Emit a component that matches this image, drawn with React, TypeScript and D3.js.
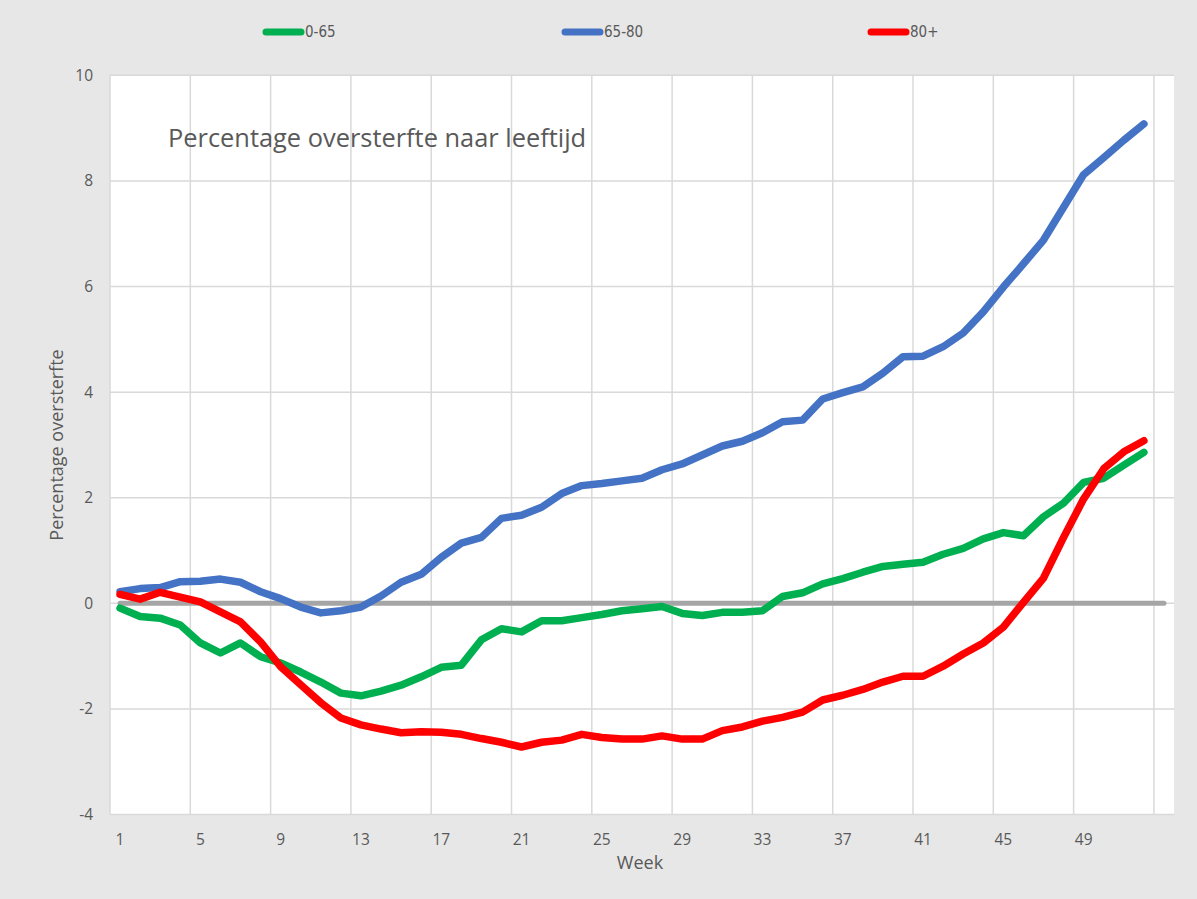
import React from "react";
import { scaleLinear, line, range } from "d3";

const weeks = range(1, 53);
const weeksAxis = range(1, 54);
const tickWeeks = [1, 5, 9, 13, 17, 21, 25, 29, 33, 37, 41, 45, 49];
const yTicks = [-4, -2, 0, 2, 4, 6, 8, 10];

const seriesNames = ["0-65", "65-80", "80+"];
const seriesColors = ["#00b050", "#4472c4", "#ff0000"];

const age0to65 = [
  -0.09, -0.25, -0.28, -0.41, -0.75, -0.94, -0.75, -1.01, -1.13, -1.3,
  -1.49, -1.7, -1.75, -1.66, -1.55, -1.39, -1.21, -1.17, -0.69, -0.48,
  -0.54, -0.33, -0.33, -0.27, -0.21, -0.14, -0.1, -0.06, -0.19, -0.23,
  -0.17, -0.17, -0.14, 0.13, 0.2, 0.37, 0.47, 0.59, 0.7, 0.74,
  0.78, 0.93, 1.04, 1.22, 1.34, 1.28, 1.64, 1.9, 2.29, 2.37,
  2.62, 2.86,
];
const age65to80 = [
  0.22, 0.28, 0.3, 0.41, 0.42, 0.46, 0.4, 0.22, 0.09, -0.07,
  -0.18, -0.14, -0.07, 0.14, 0.4, 0.55, 0.87, 1.14, 1.25, 1.61,
  1.67, 1.82, 2.08, 2.23, 2.27, 2.32, 2.37, 2.53, 2.64, 2.81,
  2.98, 3.07, 3.23, 3.44, 3.47, 3.87, 3.99, 4.1, 4.36, 4.67,
  4.68, 4.86, 5.12, 5.52, 5.99, 6.43, 6.88, 7.5, 8.12, 8.44,
  8.77, 9.08,
];
const age80plus = [
  0.17, 0.08, 0.21, 0.12, 0.03, -0.16, -0.35, -0.73, -1.2, -1.54,
  -1.88, -2.17, -2.3, -2.38, -2.45, -2.43, -2.44, -2.48, -2.56, -2.63,
  -2.72, -2.63, -2.59, -2.48, -2.54, -2.57, -2.57, -2.51, -2.57, -2.57,
  -2.41, -2.34, -2.23, -2.16, -2.06, -1.83, -1.74, -1.63, -1.49, -1.38,
  -1.38, -1.19, -0.96, -0.75, -0.45, 0.02, 0.48, 1.25, 1.98, 2.55,
  2.87, 3.08,
];
const allSeries = [age0to65, age65to80, age80plus];

const W = 1197;
const H = 899;
const left = 110;
const right = 1174;
const top = 75.3;
const bottom = 814.6;

const font = "'Open Sans', 'Noto Sans', sans-serif";
const textColor = "#595959";

export default function App() {
  const x = scaleLinear().domain([0.5, 53.5]).range([left, right]);
  const y = scaleLinear().domain([-4, 10]).range([bottom, top]);

  const path = line<number>()
    .x((d, i) => x(weeks[i]))
    .y((d) => y(d));

  // gridlines sit between categories, every 4 weeks
  const gridX = range(0, 14).map((i) => 0.5 + i * 4);
  const legendX = [263, 562, 868];

  return (
    <svg width={W} height={H} style={{ position: "absolute", left: 0, top: 0 }}>
      <rect x={0} y={0} width={W} height={H} fill="#e7e7e7" />
      <rect x={left} y={top} width={right - left} height={bottom - top} fill="#ffffff" />

      {yTicks.map((t) => (
        <line key={"gy" + t} x1={left} x2={right} y1={y(t)} y2={y(t)} stroke="#d9d9d9" strokeWidth={1.5} />
      ))}
      {gridX.map((g) => (
        <line key={"gx" + g} x1={x(g)} x2={x(g)} y1={top} y2={bottom} stroke="#d9d9d9" strokeWidth={1.5} />
      ))}

      {yTicks.map((t) => (
        <text key={"yl" + t} x={93} y={y(t)} dy="0.35em" textAnchor="end" fontFamily={font} fontSize={15.5} fill={textColor}>
          {t}
        </text>
      ))}
      {tickWeeks.map((w) => (
        <text key={"xl" + w} x={x(w)} y={845} textAnchor="middle" fontFamily={font} fontSize={15.5} fill={textColor}>
          {w}
        </text>
      ))}

      <text x={640} y={869} textAnchor="middle" fontFamily={font} fontSize={18} fill={textColor}>
        Week
      </text>
      <text
        transform={`translate(63,445) rotate(-90)`}
        textAnchor="middle"
        fontFamily={font}
        fontSize={18}
        fill={textColor}
      >
        Percentage oversterfte
      </text>
      <text x={168} y={147} fontFamily={font} fontSize={25.4} fill={textColor}>
        Percentage oversterfte naar leeftijd
      </text>

      <line
        x1={x(weeksAxis[0])}
        x2={x(weeksAxis[weeksAxis.length - 1])}
        y1={y(0)}
        y2={y(0)}
        stroke="#a5a5a5"
        strokeWidth={5}
        strokeLinecap="round"
      />

      {allSeries.map((s, i) => (
        <path
          key={seriesNames[i]}
          d={path(s) || ""}
          fill="none"
          stroke={seriesColors[i]}
          strokeWidth={7.5}
          strokeLinejoin="round"
          strokeLinecap="round"
        />
      ))}

      {seriesNames.map((n, i) => (
        <g key={"lg" + n}>
          <line
            x1={legendX[i] + 3}
            x2={legendX[i] + 38}
            y1={32}
            y2={32}
            stroke={seriesColors[i]}
            strokeWidth={7}
            strokeLinecap="round"
          />
          <text
            x={legendX[i] + 42}
            y={32}
            dy="0.35em"
            fontFamily="'Liberation Sans Narrow', 'DejaVu Sans Condensed', sans-serif"
            fontSize={15}
            fill={textColor}
          >
            {n}
          </text>
        </g>
      ))}
    </svg>
  );
}
